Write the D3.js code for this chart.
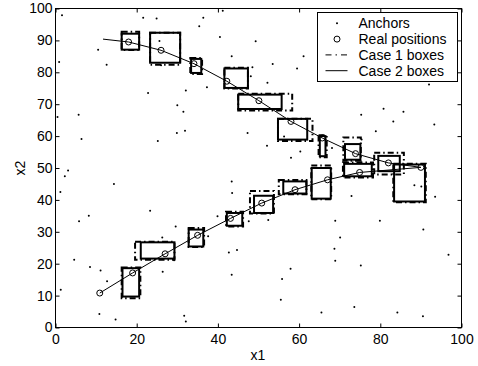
<!DOCTYPE html>
<html>
<head>
<meta charset="utf-8">
<script src="https://cdn.jsdelivr.net/npm/d3@7"></script>
<style>
  body { margin: 0; background: #fff; }
  text { font-family: "Liberation Sans", Arial, sans-serif; font-size: 14px; fill: #000; }
</style>
</head>
<body>
<div id="chart"></div>
<script>
// anchor nodes (x1, x2)
var anchorsX = [1.6, 21.6, 24.9, 10.5, 12.6, 0.9, 22.8, 5.7, 0.5, 6.4, 25.2, 25.6, 36.4, 35.4, 40.5, 49.3,
  43.4, 48.5, 48.1, 37.3, 32.1, 30.0, 31.5, 29.9, 31.9, 47.3, 41.2, 61.1, 53.5, 59.5, 52.2, 75.3, 56.3,
  60.3, 68.1, 58.0, 92.0, 85.7, 80.8, 83.2, 93.3, 78.9, 75.4, 2.3, 3.1, 14.4, 1.2, 8.2, 5.8, 23.3, 29.6,
  39.9, 43.5, 43.4, 4.6, 11.1, 12.7, 8.5, 1.3, 26.4, 26.3, 29.2, 37.6, 42.7, 44.7, 43.4, 10.8, 14.8,
  31.7, 32.1, 47.6, 52.4, 72.9, 68.9, 70.1, 68.7, 68.9, 75.2, 57.9, 55.8, 55.5, 65.5, 73.6, 79.9, 90.6,
  96.8, 84.2, 90.5, 93.5, 88.4, 90.1, 26.0, 52.1];
var anchorsY = [97.9, 97.1, 96.9, 87.1, 82.4, 83.2, 73.5, 66.7, 66.0, 59.1, 58.5, 89.8, 97.1, 94.4, 91.1, 89.7,
  85.0, 81.6, 78.8, 75.3, 74.3, 69.7, 67.6, 61.0, 61.7, 61.0, 99.3, 85.0, 82.6, 81.2, 76.7, 66.7, 59.9,
  55.2, 56.3, 53.2, 76.2, 67.6, 68.6, 64.6, 63.6, 61.5, 58.9, 47.4, 49.2, 45.0, 42.5, 35.0, 33.3, 36.6, 31.7,
  34.9, 42.2, 45.8, 21.2, 17.9, 14.5, 19.0, 11.8, 17.5, 28.2, 21.1, 28.6, 23.5, 24.3, 16.5, 4.2, 2.5,
  3.7, 1.9, 33.3, 33.7, 41.2, 33.5, 28.2, 24.7, 20.9, 19.4, 18.4, 15.2, 8.7, 4.7, 6.4, 33.5, 30.7,
  22.8, 4.7, 3.5, 41.0, 44.6, 44.2, 82.2, 57.0];

// real positions, upper and lower branch
var upperX = [18, 26, 34.1, 42.2, 50.1, 58, 65.7, 73.9, 82, 90];
var upperY = [89.5, 86.9, 82.7, 77.2, 71.1, 64.6, 59.4, 54.5, 51.6, 50.2];
var lowerX = [10.9, 19, 27, 35, 43.1, 50.8, 59, 67, 74.9];
var lowerY = [10.8, 17.1, 23.1, 28.9, 34.2, 39, 43.2, 46.3, 48.6];
var curveStart = [11.7, 90.4];

// boxes [xmin, xmax, ymin, ymax]
var case1Boxes = [
  [16.3, 20.6, 87.0, 92.7], [23.3, 30.7, 82.4, 92.4], [33.2, 36.1, 79.5, 84.5], [41.6, 47.4, 74.9, 81.4],
  [45.0, 58.3, 68.0, 73.3], [54.8, 63.3, 58.5, 65.4], [64.8, 66.8, 53.4, 60.3], [70.9, 75.2, 52.3, 59.6],
  [78.5, 85.8, 48.0, 54.8], [83.2, 91.2, 39.3, 51.3],
  [16.3, 20.9, 9.2, 18.8], [19.6, 29.3, 21.2, 26.9], [32.8, 36.6, 25.2, 31.2], [42.0, 46.2, 31.7, 36.3],
  [47.9, 53.8, 35.7, 42.8], [55.0, 61.8, 41.8, 46.2], [63.0, 67.9, 40.2, 50.8], [70.8, 78.2, 47.0, 51.7]
];
var case2Boxes = [
  [16.3, 20.6, 87.1, 92.1], [23.3, 30.7, 83.0, 92.4], [33.4, 35.9, 79.8, 84.2], [41.6, 47.4, 75.1, 81.2],
  [45.0, 55.7, 68.5, 73.0], [54.8, 62.0, 58.9, 65.4], [65.1, 66.5, 53.7, 60.0], [71.3, 75.1, 52.6, 57.5],
  [79.5, 84.8, 49.0, 53.8], [83.4, 91.0, 39.5, 51.1],
  [16.5, 20.6, 9.7, 18.6], [21.0, 29.3, 21.6, 26.7], [32.8, 36.4, 25.4, 30.7], [42.2, 46.0, 31.9, 35.9],
  [48.9, 53.6, 35.9, 41.3], [56.1, 61.8, 42.0, 45.8], [63.1, 67.8, 40.4, 50.0], [71.1, 77.9, 47.4, 51.3]
];

var legendLabels = ["Anchors", "Real positions", "Case 1 boxes", "Case 2 boxes"];
var xTicks = [0, 20, 40, 60, 80, 100];
var yTicks = [0, 10, 20, 30, 40, 50, 60, 70, 80, 90, 100];

var width = 478, height = 366;
var svg = d3.select("#chart").append("svg")
    .attr("width", width)
    .attr("height", height);

svg.append("rect").attr("width", width).attr("height", height).attr("fill", "#fff");

var x = d3.scaleLinear().domain([0, 100]).range([55.5, 461.5]);
var y = d3.scaleLinear().domain([0, 100]).range([327.5, 8.5]);

var dashDot = "6,3,1.5,3";

// anchors
svg.selectAll(".anchor")
    .data(anchorsX.map(function(d, i) { return [d, anchorsY[i]]; }))
    .enter().append("circle")
    .attr("class", "anchor")
    .attr("cx", function(d) { return x(d[0]); })
    .attr("cy", function(d) { return y(d[1]); })
    .attr("r", 1)
    .attr("fill", "#000");

// case 1 boxes (dash-dot) first, case 2 on top
function drawBoxes(data, cls, dash) {
  svg.selectAll("." + cls)
      .data(data)
      .enter().append("rect")
      .attr("class", cls)
      .attr("x", function(d) { return x(d[0]); })
      .attr("y", function(d) { return y(d[3]); })
      .attr("width", function(d) { return x(d[1]) - x(d[0]); })
      .attr("height", function(d) { return y(d[2]) - y(d[3]); })
      .attr("fill", "none")
      .attr("stroke", "#000")
      .attr("stroke-width", 2)
      .attr("stroke-dasharray", dash);
}
drawBoxes(case1Boxes, "box1", dashDot);
drawBoxes(case2Boxes, "box2", null);

// curve through real positions
var line = d3.line()
    .x(function(d) { return x(d[0]); })
    .y(function(d) { return y(d[1]); });

var upperPts = [curveStart].concat(upperX.map(function(d, i) { return [d, upperY[i]]; }));
var lowerPts = lowerX.map(function(d, i) { return [d, lowerY[i]]; })
    .concat([[upperX[upperX.length - 1], upperY[upperY.length - 1]]]);

[upperPts, lowerPts].forEach(function(pts) {
  svg.append("path")
      .attr("d", line(pts))
      .attr("fill", "none")
      .attr("stroke", "#000")
      .attr("stroke-width", 1);
});

var realPts = upperX.map(function(d, i) { return [d, upperY[i]]; })
    .concat(lowerX.map(function(d, i) { return [d, lowerY[i]]; }));
svg.selectAll(".real")
    .data(realPts)
    .enter().append("circle")
    .attr("class", "real")
    .attr("cx", function(d) { return x(d[0]); })
    .attr("cy", function(d) { return y(d[1]); })
    .attr("r", 3)
    .attr("fill", "none")
    .attr("stroke", "#000")
    .attr("stroke-width", 1);

// axes, ticks pointing inward on all sides
var gx = svg.append("g").attr("transform", "translate(0,327.5)")
    .call(d3.axisBottom(x).tickValues(xTicks).tickSizeInner(-4).tickSizeOuter(0).tickPadding(6.5));
var gy = svg.append("g").attr("transform", "translate(55.5,0)")
    .call(d3.axisLeft(y).tickValues(yTicks).tickSizeInner(-4).tickSizeOuter(0).tickPadding(3));
var gt = svg.append("g").attr("transform", "translate(0,8.5)")
    .call(d3.axisTop(x).tickValues(xTicks).tickSizeInner(-4).tickSizeOuter(0).tickFormat(""));
var gr = svg.append("g").attr("transform", "translate(461.5,0)")
    .call(d3.axisRight(y).tickValues(yTicks).tickSizeInner(-4).tickSizeOuter(0).tickFormat(""));

[gx, gy, gt, gr].forEach(function(g) {
  g.select(".domain").remove();
  g.selectAll("line").attr("stroke", "#000");
  g.selectAll("text")
      .style("font-family", "'Liberation Sans', Arial, sans-serif")
      .style("font-size", "14px")
      .attr("fill", "#000");
});

svg.append("rect")
    .attr("x", 55.5).attr("y", 8.5)
    .attr("width", 406).attr("height", 319)
    .attr("fill", "none")
    .attr("stroke", "#000")
    .attr("stroke-width", 1);

svg.append("text")
    .attr("x", 258).attr("y", 360)
    .attr("text-anchor", "middle")
    .text("x1");

svg.append("text")
    .attr("transform", "translate(25,168) rotate(-90)")
    .attr("text-anchor", "middle")
    .text("x2");

// legend
var leg = svg.append("g");
leg.append("rect")
    .attr("x", 317.5).attr("y", 12.5)
    .attr("width", 140).attr("height", 69)
    .attr("fill", "#fff")
    .attr("stroke", "#000")
    .attr("stroke-width", 1);

legendLabels.forEach(function(lab, i) {
  var by = 28.3 + i * 15.8;
  var cy = by - 5;
  leg.append("text").attr("x", 358.5).attr("y", by).text(lab);
  if (i === 0) {
    leg.append("circle").attr("cx", 337).attr("cy", cy).attr("r", 1).attr("fill", "#000");
  } else if (i === 1) {
    leg.append("circle").attr("cx", 337).attr("cy", cy).attr("r", 3)
        .attr("fill", "none").attr("stroke", "#000");
  } else {
    leg.append("line")
        .attr("x1", 325.5).attr("x2", 347.5)
        .attr("y1", cy).attr("y2", cy)
        .attr("stroke", "#000")
        .attr("stroke-width", 1)
        .attr("stroke-dasharray", i === 2 ? "6,4,1.5,4" : null);
  }
});
</script>
</body>
</html>
